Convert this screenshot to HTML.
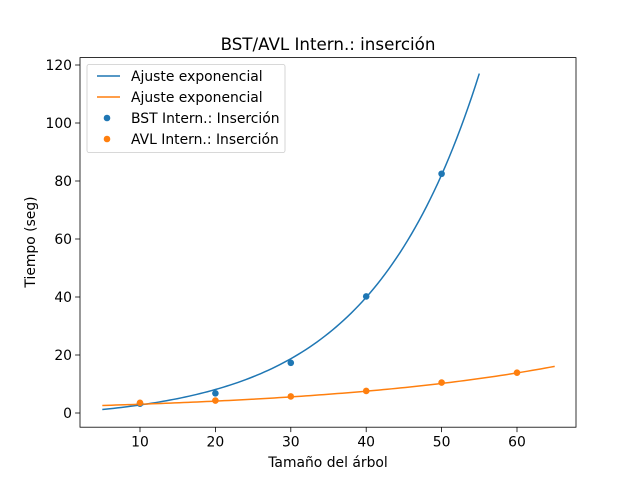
<!DOCTYPE html>
<html><head><meta charset="utf-8"><style>body{margin:0;background:#fff}svg{display:block;font-family:"DejaVu Sans","Liberation Sans",sans-serif}</style></head>
<body>
<svg id="chart" width="640" height="480" viewBox="0 0 640 480"></svg>
<script>
const xTicks=[10,20,30,40,50,60];
const yTicks=[0,20,40,60,80,100,120];
const bstX=[10,20,30,40,50];
const bstY=[3.2,6.8,17.3,40.2,82.5];
const avlX=[10,20,30,40,50,60];
const avlY=[3.5,4.3,5.7,7.6,10.5,13.9];
const bstFit=[2.69,0.069,-2.6];
const avlFit=[2.23,0.0304,0];
const bstRange=[5,55];
const avlRange=[5,65];
const L=80,R=576,T=57.6,B=427.2;
const sx=v=>140+(v-10)*7.54;
const sy=v=>413-v*2.9;
const svg=document.getElementById('chart');
const NS='http://www.w3.org/2000/svg';
function mk(t,a,p){const e=document.createElementNS(NS,t);for(const k in a)e.setAttribute(k,a[k]);(p||svg).appendChild(e);return e;}
let e;
e=mk('rect',{x:L,y:T,width:R-L,height:B-T,fill:'none',stroke:'#000','stroke-width':0.8});


xTicks.forEach(v=>{const x=sx(v);
 e=mk('line',{x1:x,x2:x,y1:B,y2:B+4.9,stroke:'#000','stroke-width':0.8});
 
 
 e=mk('text',{x:x,y:B+19.5,'text-anchor':'middle','font-size':13.9});e.textContent=v;
 
 });
yTicks.forEach(v=>{const y=sy(v);
 e=mk('line',{x1:L-4.9,x2:L,y1:y,y2:y,stroke:'#000','stroke-width':0.8});
 
 
 e=mk('text',{x:L-8,y:y+5,'text-anchor':'end','font-size':13.9});e.textContent=v;
 
 });
function curve(p,r,c,name){let d='';for(let i=0;i<=100;i++){const x=r[0]+(r[1]-r[0])*i/100;const y=p[0]*Math.exp(p[1]*x)+p[2];d+=(i?'L':'M')+sx(x).toFixed(2)+','+sy(y).toFixed(2);}
 e=mk('path',{d:d,fill:'none',stroke:c,'stroke-width':1.5});
 
 }
function pts(xs,ys,c,name){xs.forEach((x,i)=>{e=mk('circle',{cx:sx(x),cy:sy(ys[i]),r:3.3,fill:c});
 
 });}
curve(bstFit,bstRange,'#1f77b4','bst-fit-line');
curve(avlFit,avlRange,'#ff7f0e','avl-fit-line');
pts(bstX,bstY,'#1f77b4','bst-point');
pts(avlX,avlY,'#ff7f0e','avl-point');
e=mk('text',{x:328,y:50,'text-anchor':'middle','font-size':16.7});e.textContent='BST/AVL Intern.: inserción';


e=mk('text',{x:328,y:467,'text-anchor':'middle','font-size':13.9});e.textContent='Tamaño del árbol';


e=mk('text',{x:0,y:0,'text-anchor':'middle','font-size':13.9,transform:'translate(35,242) rotate(-90)'});e.textContent='Tiempo (seg)';


const lg=mk('g',{});


mk('rect',{x:87,y:64.5,width:198,height:88,rx:2,fill:'#fff',stroke:'#ccc','stroke-width':0.8},lg);
const items=[['line','#1f77b4','Ajuste exponencial'],['line','#ff7f0e','Ajuste exponencial'],['dot','#1f77b4','BST Intern.: Inserción'],['dot','#ff7f0e','AVL Intern.: Inserción']];
items.forEach((it,i)=>{const y=76+i*21;
 if(it[0]=='line')mk('line',{x1:97,x2:120,y1:y,y2:y,stroke:it[1],'stroke-width':1.5},lg);
 else mk('circle',{cx:107,cy:y,r:3.3,fill:it[1]},lg);
 e=mk('text',{x:131,y:y+5,'font-size':13.9},lg);e.textContent=it[2];
 
 });
</script>
</body></html>
